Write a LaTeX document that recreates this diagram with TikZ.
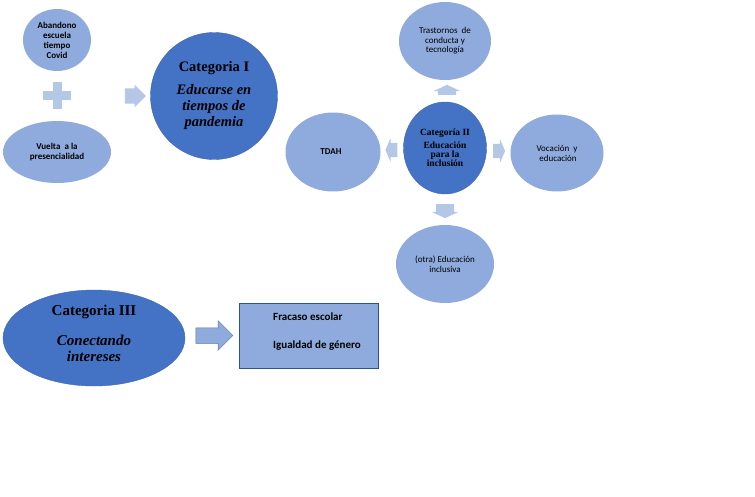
\documentclass[tikz,border=0pt]{standalone}
\usepackage{fontspec}
\setmainfont{Liberation Serif}
\newfontfamily\labelfont{Carlito}
\usetikzlibrary{shapes.geometric,shapes.arrows}
\definecolor{lightblue}{HTML}{8FAADC}
\definecolor{darkblue}{HTML}{4472C4}
\definecolor{paleblue}{HTML}{B4C7E7}
\definecolor{edgeblue}{HTML}{2F528F}
\tikzset{
	topic/.style={ellipse, fill=lightblue, inner sep=0pt, align=center, font=\labelfont\bfseries\fontsize{9}{10}\selectfont},
	category/.style={ellipse, fill=darkblue, draw=darkblue!92!black, line width=0.4pt, inner sep=0pt, align=center},
	blockarrow/.style={single arrow, fill=paleblue, inner xsep=0pt, anchor=center}
}

\begin{document}
\begin{tikzpicture}[x=1pt, y=-1pt]
		%%%%% START %%%%%
		
		\useasboundingbox (0, 0) rectangle (755, 496);
		
		\node[topic, minimum width=68, minimum height=62] (abandono) at (57, 40) {Abandono\\escuela\\tiempo\\Covid};
		\fill[paleblue] (43, 91) rectangle (71, 100);
		\fill[paleblue] (53, 82) rectangle (62, 109);
		\node[topic, minimum width=108, minimum height=62] (vuelta) at (57, 152) {Vuelta\ \ a la\\presencialidad};
		
		\node[blockarrow, inner ysep=7.5, single arrow head extend=3.5, minimum height=21] (arrowI) at (131.5, 96) {};
		
		\node[category, circle, minimum size=127, font=\bfseries\fontsize{14.5}{16}\selectfont] (catI) at (214, 96) {Categoria I\\[7pt]\itshape Educarse en\\\itshape tiempos de\\\itshape pandemia};
		
		\node[topic, minimum width=92, minimum height=78, font=\labelfont\fontsize{9}{9.5}\selectfont] (trastornos) at (445, 41) {Trastornos\ \ de\\conducta y\\tecnología};
		\node[category, minimum width=83, minimum height=92, font=\bfseries\fontsize{9.5}{9}\selectfont] (catII) at (445, 148) {Categoría II\\[4pt]Educación\\para la\\inclusión};
		\node[topic, minimum width=95, minimum height=79] (tdah) at (333, 152) {\hspace*{-4pt}TDAH};
		\node[topic, minimum width=93, minimum height=77, font=\labelfont\fontsize{9}{10}\selectfont] (vocacion) at (557, 153) {Vocación\ \ y\\\ educación};
		\node[topic, minimum width=98, minimum height=78, font=\labelfont\fontsize{9}{10}\selectfont] (inclusiva) at (445, 264) {(otra)\ Educación\\inclusiva};
		
		\node[blockarrow, rotate=90, inner ysep=9, single arrow head extend=4, single arrow tip angle=130, minimum height=10] (arrowup) at (447, 92) {};
		\node[blockarrow, rotate=180, inner ysep=7, single arrow head extend=4.5, single arrow tip angle=133, minimum height=12] (arrowleft) at (393, 150) {};
		\node[blockarrow, inner ysep=7, single arrow head extend=4.5, single arrow tip angle=133, minimum height=12] (arrowright) at (497.5, 151) {};
		\node[blockarrow, rotate=-90, inner ysep=9, single arrow head extend=4, single arrow tip angle=130, minimum height=14] (arrowdown) at (445, 209) {};
		
		\node[category, minimum width=182, minimum height=96, font=\bfseries\fontsize{15}{16}\selectfont] (catIII) at (94, 338) {Categoria III\\[14pt]\itshape Conectando\\\itshape intereses\\[-6pt]\mbox{}};
		
		\node[blockarrow, fill=lightblue, draw=edgeblue!80, line width=0.5pt, inner ysep=7.5, single arrow head extend=7, minimum height=37] (arrowIII) at (210.5, 335.5) {};
		
		\node[rectangle, fill=lightblue, draw=edgeblue, line width=0.6pt, minimum width=139, minimum height=65] (themes) at (308.5, 335.5) {};
		\node[anchor=west, align=left, inner sep=0pt, font=\labelfont\bfseries\fontsize{11}{28}\selectfont] (themestext) at (273, 331.5) {Fracaso escolar\\Igualdad de género};
		
		%%%%% END %%%%%
	\end{tikzpicture}
\end{document}
